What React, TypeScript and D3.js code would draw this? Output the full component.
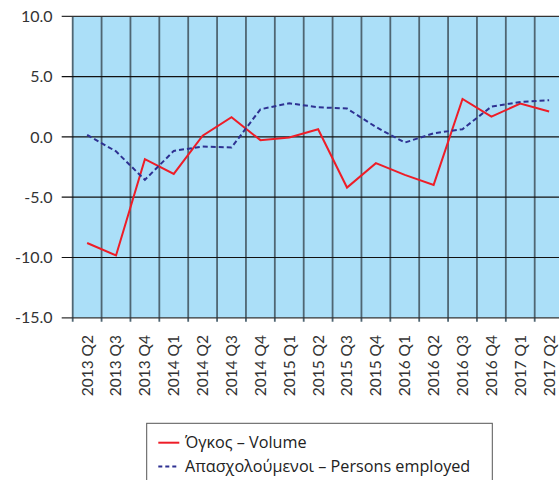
import React from "react";
import * as d3 from "d3";

const categories = ["2013 Q2","2013 Q3","2013 Q4","2014 Q1","2014 Q2","2014 Q3","2014 Q4","2015 Q1","2015 Q2","2015 Q3","2015 Q4","2016 Q1","2016 Q2","2016 Q3","2016 Q4","2017 Q1","2017 Q2"];
const volume = [-8.8,-9.83,-1.85,-3.07,0.1,1.63,-0.27,-0.05,0.64,-4.2,-2.18,-3.15,-3.98,3.15,1.68,2.76,2.1];
const employed = [0.17,-1.2,-3.56,-1.16,-0.8,-0.88,2.29,2.79,2.46,2.35,0.82,-0.47,0.3,0.64,2.51,2.9,3.04];
const yTicks = [10,5,0,-5,-10,-15];
const legendLabels = ["Όγκος – Volume","Απασχολούμενοι – Persons employed"];

const W = 559, H = 480;
const left = 72.7, top = 16.3, bottom = 317.8;
const band = 28.875;
const right = left + band * categories.length;
const font = "Lato, 'Open Sans', sans-serif";
const legendFont = "'Open Sans', sans-serif";

export default function App() {
  const x = d3.scaleBand().domain(categories).range([left, right]).paddingInner(0).paddingOuter(0);
  const y = d3.scaleLinear().domain([-15, 10]).range([bottom, top]);
  const cx = (c: string) => (x(c) as number) + x.bandwidth() / 2;
  const line = d3.line<number>().x((_, i) => cx(categories[i])).y(d => y(d));
  const vlines = categories.map(c => x(c) as number).concat([right]);
  return (
    <svg width={W} height={H} style={{ position: "absolute", left: 0, top: 0 }}>
      <rect x={left} y={top} width={right - left} height={bottom - top} fill="#abdff8" />
      {vlines.map((v, i) => (
        <line key={"v" + i} x1={v} x2={v} y1={top} y2={bottom + 4} stroke="#4f6673" strokeWidth={1.8} />
      ))}
      {yTicks.map(t => (
        <g key={"y" + t}>
          <line x1={left - 11} x2={right} y1={y(t)} y2={y(t)} stroke={t === 10 || t === -15 ? "#333" : "#111"} strokeWidth={1.2} />
          <text x={52.5} y={y(t)} dy="0.35em" textAnchor="end" fontFamily={font} fontSize={16} fill="#333">{t.toFixed(1)}</text>
        </g>
      ))}
      <path d={line(volume) || ""} fill="none" stroke="#ee1d27" strokeWidth={2} />
      <path d={line(employed) || ""} fill="none" stroke="#2e3192" strokeWidth={2} strokeDasharray="5,3" />
      {categories.map(c => (
        <text key={"x" + c} transform={`translate(${cx(c)},335) rotate(-90)`} dy="0.35em" textAnchor="end" fontFamily={font} fontSize={15.5} fill="#333">{c}</text>
      ))}
      <rect x={146.7} y={423.3} width={345.6} height={70} fill="white" stroke="#555" strokeWidth={1} />
      <line x1={158.3} x2={179.3} y1={442.7} y2={442.7} stroke="#ee1d27" strokeWidth={2} />
      <line x1={158.3} x2={179.3} y1={466.5} y2={466.5} stroke="#2e3192" strokeWidth={2} strokeDasharray="4,3" />
      <text x={185} y={442.7} dy="0.35em" fontFamily={legendFont} fontSize={16.2} fill="#222">{legendLabels[0]}</text>
      <text x={185} y={466.5} dy="0.35em" fontFamily={legendFont} fontSize={16.2} fill="#222">{legendLabels[1]}</text>
    </svg>
  );
}
